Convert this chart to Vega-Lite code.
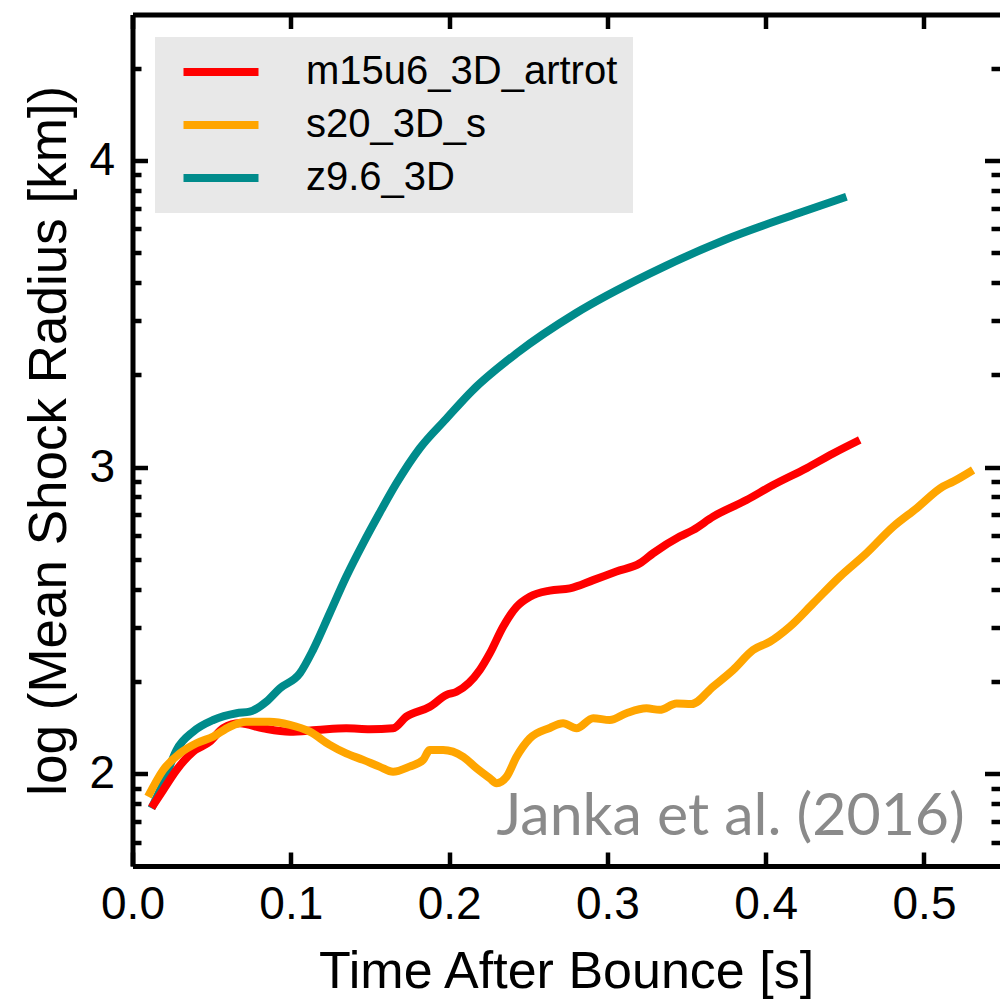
{
  "$schema": "https://vega.github.io/schema/vega-lite/v6.json",
  "width": 867,
  "height": 851.5,
  "autosize": {"type": "none"},
  "padding": {"left": 132.5, "top": 14.5, "right": 0, "bottom": 134},
  "background": "white",
  "config": {
    "view": {"stroke": null},
    "font": "Liberation Sans",
    "axis": {
      "domainColor": "black",
      "domainWidth": 5,
      "tickColor": "black",
      "tickWidth": 4.5,
      "grid": false,
      "labelColor": "black",
      "labelFont": "Liberation Sans",
      "labelFontSize": 46,
      "labelFlush": false,
      "labelOverlap": false,
      "titleFont": "Liberation Sans",
      "titleFontSize": 52,
      "titleFontWeight": "normal",
      "titleColor": "black"
    }
  },
  "datasets": {
    "shock": [
      {"t": 0.012, "logr": 1.888, "model": "z9.6_3D"},
      {"t": 0.0194, "logr": 1.970, "model": "z9.6_3D"},
      {"t": 0.0278, "logr": 2.078, "model": "z9.6_3D"},
      {"t": 0.0383, "logr": 2.138, "model": "z9.6_3D"},
      {"t": 0.051, "logr": 2.176, "model": "z9.6_3D"},
      {"t": 0.0657, "logr": 2.198, "model": "z9.6_3D"},
      {"t": 0.074, "logr": 2.203, "model": "z9.6_3D"},
      {"t": 0.0846, "logr": 2.236, "model": "z9.6_3D"},
      {"t": 0.093, "logr": 2.279, "model": "z9.6_3D"},
      {"t": 0.1057, "logr": 2.328, "model": "z9.6_3D"},
      {"t": 0.114, "logr": 2.404, "model": "z9.6_3D"},
      {"t": 0.1246, "logr": 2.524, "model": "z9.6_3D"},
      {"t": 0.135, "logr": 2.643, "model": "z9.6_3D"},
      {"t": 0.1457, "logr": 2.752, "model": "z9.6_3D"},
      {"t": 0.156, "logr": 2.850, "model": "z9.6_3D"},
      {"t": 0.1668, "logr": 2.948, "model": "z9.6_3D"},
      {"t": 0.1815, "logr": 3.062, "model": "z9.6_3D"},
      {"t": 0.198, "logr": 3.157, "model": "z9.6_3D"},
      {"t": 0.2147, "logr": 3.250, "model": "z9.6_3D"},
      {"t": 0.2428, "logr": 3.372, "model": "z9.6_3D"},
      {"t": 0.280, "logr": 3.502, "model": "z9.6_3D"},
      {"t": 0.327, "logr": 3.632, "model": "z9.6_3D"},
      {"t": 0.374, "logr": 3.741, "model": "z9.6_3D"},
      {"t": 0.4206, "logr": 3.828, "model": "z9.6_3D"},
      {"t": 0.451, "logr": 3.882, "model": "z9.6_3D"},

      {"t": 0.012, "logr": 1.890, "model": "m15u6_3D_artrot"},
      {"t": 0.0194, "logr": 1.948, "model": "m15u6_3D_artrot"},
      {"t": 0.0278, "logr": 2.013, "model": "m15u6_3D_artrot"},
      {"t": 0.0383, "logr": 2.073, "model": "m15u6_3D_artrot"},
      {"t": 0.0488, "logr": 2.105, "model": "m15u6_3D_artrot"},
      {"t": 0.0572, "logr": 2.149, "model": "m15u6_3D_artrot"},
      {"t": 0.0678, "logr": 2.165, "model": "m15u6_3D_artrot"},
      {"t": 0.0825, "logr": 2.149, "model": "m15u6_3D_artrot"},
      {"t": 0.0994, "logr": 2.138, "model": "m15u6_3D_artrot"},
      {"t": 0.1162, "logr": 2.143, "model": "m15u6_3D_artrot"},
      {"t": 0.135, "logr": 2.149, "model": "m15u6_3D_artrot"},
      {"t": 0.150, "logr": 2.146, "model": "m15u6_3D_artrot"},
      {"t": 0.1646, "logr": 2.149, "model": "m15u6_3D_artrot"},
      {"t": 0.173, "logr": 2.187, "model": "m15u6_3D_artrot"},
      {"t": 0.1878, "logr": 2.219, "model": "m15u6_3D_artrot"},
      {"t": 0.1984, "logr": 2.258, "model": "m15u6_3D_artrot"},
      {"t": 0.2047, "logr": 2.268, "model": "m15u6_3D_artrot"},
      {"t": 0.2194, "logr": 2.339, "model": "m15u6_3D_artrot"},
      {"t": 0.2257, "logr": 2.393, "model": "m15u6_3D_artrot"},
      {"t": 0.2341, "logr": 2.480, "model": "m15u6_3D_artrot"},
      {"t": 0.2426, "logr": 2.545, "model": "m15u6_3D_artrot"},
      {"t": 0.251, "logr": 2.578, "model": "m15u6_3D_artrot"},
      {"t": 0.2636, "logr": 2.598, "model": "m15u6_3D_artrot"},
      {"t": 0.2763, "logr": 2.605, "model": "m15u6_3D_artrot"},
      {"t": 0.291, "logr": 2.632, "model": "m15u6_3D_artrot"},
      {"t": 0.3057, "logr": 2.660, "model": "m15u6_3D_artrot"},
      {"t": 0.3205, "logr": 2.687, "model": "m15u6_3D_artrot"},
      {"t": 0.329, "logr": 2.720, "model": "m15u6_3D_artrot"},
      {"t": 0.3457, "logr": 2.774, "model": "m15u6_3D_artrot"},
      {"t": 0.354, "logr": 2.795, "model": "m15u6_3D_artrot"},
      {"t": 0.3668, "logr": 2.839, "model": "m15u6_3D_artrot"},
      {"t": 0.3879, "logr": 2.893, "model": "m15u6_3D_artrot"},
      {"t": 0.4047, "logr": 2.942, "model": "m15u6_3D_artrot"},
      {"t": 0.4258, "logr": 2.997, "model": "m15u6_3D_artrot"},
      {"t": 0.4426, "logr": 3.045, "model": "m15u6_3D_artrot"},
      {"t": 0.4594, "logr": 3.089, "model": "m15u6_3D_artrot"},

      {"t": 0.0098, "logr": 1.926, "model": "s20_3D_s"},
      {"t": 0.0194, "logr": 2.013, "model": "s20_3D_s"},
      {"t": 0.0299, "logr": 2.067, "model": "s20_3D_s"},
      {"t": 0.0404, "logr": 2.100, "model": "s20_3D_s"},
      {"t": 0.051, "logr": 2.122, "model": "s20_3D_s"},
      {"t": 0.0615, "logr": 2.154, "model": "s20_3D_s"},
      {"t": 0.072, "logr": 2.170, "model": "s20_3D_s"},
      {"t": 0.0867, "logr": 2.170, "model": "s20_3D_s"},
      {"t": 0.0994, "logr": 2.160, "model": "s20_3D_s"},
      {"t": 0.112, "logr": 2.138, "model": "s20_3D_s"},
      {"t": 0.1246, "logr": 2.095, "model": "s20_3D_s"},
      {"t": 0.135, "logr": 2.067, "model": "s20_3D_s"},
      {"t": 0.1457, "logr": 2.046, "model": "s20_3D_s"},
      {"t": 0.156, "logr": 2.024, "model": "s20_3D_s"},
      {"t": 0.1646, "logr": 2.007, "model": "s20_3D_s"},
      {"t": 0.175, "logr": 2.024, "model": "s20_3D_s"},
      {"t": 0.1836, "logr": 2.046, "model": "s20_3D_s"},
      {"t": 0.1878, "logr": 2.078, "model": "s20_3D_s"},
      {"t": 0.1962, "logr": 2.078, "model": "s20_3D_s"},
      {"t": 0.2089, "logr": 2.056, "model": "s20_3D_s"},
      {"t": 0.2173, "logr": 2.019, "model": "s20_3D_s"},
      {"t": 0.2257, "logr": 1.986, "model": "s20_3D_s"},
      {"t": 0.230, "logr": 1.970, "model": "s20_3D_s"},
      {"t": 0.2363, "logr": 1.991, "model": "s20_3D_s"},
      {"t": 0.2426, "logr": 2.056, "model": "s20_3D_s"},
      {"t": 0.251, "logr": 2.116, "model": "s20_3D_s"},
      {"t": 0.2636, "logr": 2.150, "model": "s20_3D_s"},
      {"t": 0.272, "logr": 2.165, "model": "s20_3D_s"},
      {"t": 0.2805, "logr": 2.149, "model": "s20_3D_s"},
      {"t": 0.291, "logr": 2.182, "model": "s20_3D_s"},
      {"t": 0.3015, "logr": 2.176, "model": "s20_3D_s"},
      {"t": 0.312, "logr": 2.198, "model": "s20_3D_s"},
      {"t": 0.3247, "logr": 2.214, "model": "s20_3D_s"},
      {"t": 0.333, "logr": 2.209, "model": "s20_3D_s"},
      {"t": 0.3437, "logr": 2.230, "model": "s20_3D_s"},
      {"t": 0.3531, "logr": 2.228, "model": "s20_3D_s"},
      {"t": 0.3668, "logr": 2.285, "model": "s20_3D_s"},
      {"t": 0.3794, "logr": 2.339, "model": "s20_3D_s"},
      {"t": 0.392, "logr": 2.404, "model": "s20_3D_s"},
      {"t": 0.4026, "logr": 2.431, "model": "s20_3D_s"},
      {"t": 0.4152, "logr": 2.480, "model": "s20_3D_s"},
      {"t": 0.430, "logr": 2.556, "model": "s20_3D_s"},
      {"t": 0.4468, "logr": 2.643, "model": "s20_3D_s"},
      {"t": 0.4637, "logr": 2.720, "model": "s20_3D_s"},
      {"t": 0.4805, "logr": 2.806, "model": "s20_3D_s"},
      {"t": 0.4953, "logr": 2.866, "model": "s20_3D_s"},
      {"t": 0.512, "logr": 2.937, "model": "s20_3D_s"},
      {"t": 0.5184, "logr": 2.953, "model": "s20_3D_s"},
      {"t": 0.531, "logr": 2.991, "model": "s20_3D_s"}
    ],
    "credit": [
      {"t": 0.5258, "logr": 1.80, "label": "Janka et al. (2016)"}
    ]
  },
  "layer": [
    {
      "data": {"name": "shock"},
      "mark": {"type": "line", "strokeWidth": 8, "strokeJoin": "round", "strokeCap": "butt", "interpolate": "monotone", "clip": true},
      "encoding": {
        "x": {
          "field": "t",
          "type": "quantitative",
          "scale": {"domain": [0, 0.5477], "nice": false, "zero": false},
          "axis": {
            "orient": "bottom",
            "values": [0, 0.1, 0.2, 0.3, 0.4, 0.5],
            "format": ".1f",
            "tickSize": -14,
            "labelPadding": 30,
            "title": "Time After Bounce [s]",
            "titlePadding": 19
          }
        },
        "y": {
          "field": "logr",
          "type": "quantitative",
          "scale": {"domain": [1.7, 4.476], "nice": false, "zero": false},
          "axis": {
            "orient": "left",
            "values": [1.77815, 1.8451, 1.90309, 1.95424, 2, 2.30103, 2.47712, 2.60206, 2.69897, 2.77815, 2.8451, 2.90309, 2.95424, 3, 3.30103, 3.47712, 3.60206, 3.69897, 3.77815, 3.8451, 3.90309, 3.95424, 4, 4.30103],
            "labelExpr": "abs(datum.value - round(datum.value)) < 1e-6 ? format(datum.value, 'd') : ''",
            "tickSize": {"condition": {"test": "abs(datum.value - round(datum.value)) < 1e-6", "value": -15}, "value": -8.5},
            "labelPadding": 33,
            "title": "log (Mean Shock Radius [km])",
            "titleFontSize": 53,
            "titlePadding": 12
          }
        },
        "color": {
          "field": "model",
          "type": "nominal",
          "scale": {
            "domain": ["m15u6_3D_artrot", "s20_3D_s", "z9.6_3D"],
            "range": ["#ff0000", "#ffa500", "#008b8b"]
          },
          "legend": {
            "orient": "none",
            "legendX": 22.5,
            "legendY": 22.5,
            "title": null,
            "fillColor": "#e8e8e8",
            "padding": 15,
            "symbolType": "M-3,0H3",
            "symbolSize": 625,
            "symbolStrokeWidth": 8,
            "symbolOffset": 31,
            "labelFont": "Liberation Sans",
            "labelFontSize": 40,
            "labelColor": "black",
            "labelLimit": 1000,
            "labelOffset": 65,
            "rowPadding": 13
          }
        }
      }
    },
    {
      "data": {"name": "credit"},
      "mark": {"type": "text", "align": "right", "baseline": "alphabetic", "font": "Lato", "fontSize": 59, "color": "#8a8a8a"},
      "encoding": {
        "x": {
          "field": "t",
          "type": "quantitative",
          "scale": {"domain": [0, 0.5477], "nice": false, "zero": false},
          "axis": {
            "orient": "top",
            "values": [0, 0.1, 0.2, 0.3, 0.4, 0.5],
            "tickSize": -14,
            "labels": false,
            "title": null
          }
        },
        "y": {
          "field": "logr",
          "type": "quantitative",
          "scale": {"domain": [1.7, 4.476], "nice": false, "zero": false},
          "axis": {
            "orient": "right",
            "values": [1.77815, 1.8451, 1.90309, 1.95424, 2, 2.30103, 2.47712, 2.60206, 2.69897, 2.77815, 2.8451, 2.90309, 2.95424, 3, 3.30103, 3.47712, 3.60206, 3.69897, 3.77815, 3.8451, 3.90309, 3.95424, 4, 4.30103],
            "tickSize": {"condition": {"test": "abs(datum.value - round(datum.value)) < 1e-6", "value": -15}, "value": -8.5},
            "domain": false,
            "labels": false,
            "title": null
          }
        },
        "text": {"field": "label", "type": "nominal"}
      }
    }
  ],
  "resolve": {"axis": {"x": "independent", "y": "independent"}}
}
